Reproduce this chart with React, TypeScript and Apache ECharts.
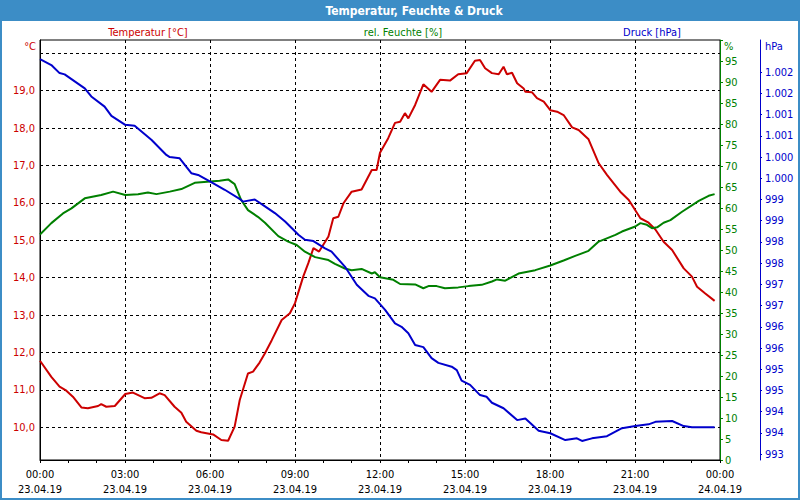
import React, { useEffect, useRef } from "react";
import * as echarts from "echarts";

// [hour of day, value]
const temperature: [number, number][] = [
  [0, 11.78], [0.4, 11.35], [0.69, 11.09], [0.93, 10.98], [1.16, 10.82], [1.46, 10.53], [1.69, 10.51],
  [2.05, 10.57], [2.16, 10.62], [2.34, 10.55], [2.64, 10.57], [3.01, 10.89], [3.28, 10.93], [3.69, 10.78],
  [3.93, 10.79], [4.22, 10.91], [4.4, 10.86], [4.75, 10.55], [4.99, 10.39], [5.16, 10.15], [5.52, 9.91],
  [5.69, 9.87], [6.11, 9.81], [6.4, 9.66], [6.64, 9.64], [6.87, 10.02], [7.05, 10.73], [7.34, 11.44],
  [7.52, 11.49], [7.75, 11.73], [7.94, 11.98], [8.18, 12.33], [8.53, 12.87], [8.82, 13.05], [9.0, 13.32],
  [9.29, 14.03], [9.47, 14.39], [9.65, 14.79], [9.85, 14.7], [10.18, 15.1], [10.35, 15.59], [10.53, 15.63],
  [10.71, 15.99], [11.0, 16.3], [11.35, 16.36], [11.71, 16.88], [11.88, 16.88], [12.0, 17.34], [12.29, 17.73],
  [12.53, 18.14], [12.71, 18.17], [12.88, 18.4], [13.0, 18.26], [13.24, 18.62], [13.53, 19.17], [13.82, 18.97],
  [14.12, 19.29], [14.47, 19.27], [14.76, 19.44], [15.06, 19.47], [15.35, 19.8], [15.53, 19.82], [15.71, 19.6],
  [15.95, 19.47], [16.19, 19.44], [16.36, 19.64], [16.48, 19.44], [16.66, 19.48], [16.84, 19.2], [17.07, 19.06],
  [17.13, 18.97], [17.36, 18.96], [17.54, 18.8], [17.78, 18.71], [18.01, 18.48], [18.25, 18.44], [18.48, 18.35],
  [18.78, 18.02], [19.01, 17.95], [19.36, 17.7], [19.72, 17.06], [20.01, 16.75], [20.48, 16.3], [20.78, 16.08],
  [21.19, 15.59], [21.48, 15.47], [21.72, 15.29], [22.01, 14.96], [22.31, 14.74], [22.72, 14.25], [23.01, 14.03],
  [23.19, 13.76], [23.48, 13.58], [23.81, 13.38],
];

const humidity: [number, number][] = [
  [0, 53.7], [0.4, 56.4], [0.81, 58.7], [1.11, 59.9], [1.58, 62.3], [2.16, 63.1], [2.58, 63.9], [3.01, 63.1],
  [3.46, 63.3], [3.81, 63.7], [4.11, 63.3], [4.58, 63.9], [4.99, 64.5], [5.46, 66.0], [6.01, 66.3], [6.34, 66.5],
  [6.64, 66.8], [6.87, 65.7], [7.1, 61.9], [7.34, 59.5], [7.69, 57.9], [7.94, 56.5], [8.41, 53.3], [8.76, 52.0],
  [9.06, 51.2], [9.35, 49.6], [9.71, 48.3], [10.18, 47.6], [10.41, 46.7], [10.76, 45.6], [11.0, 45.2],
  [11.35, 45.5], [11.71, 44.4], [11.82, 44.7], [12.0, 43.5], [12.47, 42.9], [12.71, 41.9], [13.24, 41.8],
  [13.53, 40.9], [13.71, 41.4], [14.0, 41.4], [14.29, 40.9], [14.76, 41.1], [15.12, 41.4], [15.59, 41.7],
  [15.95, 42.5], [16.13, 43.0], [16.42, 42.7], [16.89, 44.4], [17.48, 45.2], [18.01, 46.3], [18.48, 47.5],
  [18.89, 48.6], [19.36, 49.8], [19.72, 52.0], [20.31, 53.6], [20.54, 54.4], [21.01, 55.6], [21.19, 56.4],
  [21.42, 56.0], [21.6, 55.2], [21.78, 55.4], [22.01, 56.5], [22.25, 57.1], [22.66, 59.1], [23.25, 61.7],
  [23.6, 62.9], [23.81, 63.3],
];

const pressure: [number, number][] = [
  [0, 1002.31], [0.4, 1002.17], [0.69, 1001.98], [0.87, 1001.95], [1.58, 1001.62], [1.81, 1001.43],
  [2.28, 1001.19], [2.52, 1000.97], [3.01, 1000.76], [3.34, 1000.74], [3.93, 1000.41], [4.46, 1000.05],
  [4.58, 1000.0], [4.93, 999.97], [5.34, 999.62], [5.58, 999.58], [6.01, 999.42], [6.52, 999.23],
  [7.1, 998.99], [7.16, 998.95], [7.58, 999.0], [7.94, 998.84], [8.29, 998.68], [8.65, 998.48],
  [9.12, 998.17], [9.35, 998.05], [9.65, 998.02], [10.06, 997.85], [10.29, 997.77], [10.76, 997.42],
  [11.18, 996.99], [11.59, 996.73], [11.82, 996.67], [12.18, 996.4], [12.53, 996.08], [12.76, 996.0],
  [13.0, 995.85], [13.24, 995.57], [13.53, 995.52], [13.82, 995.26], [14.06, 995.15], [14.53, 995.06],
  [14.71, 994.98], [14.88, 994.73], [15.18, 994.63], [15.53, 994.39], [15.76, 994.35], [15.95, 994.21],
  [16.36, 994.08], [16.84, 993.8], [17.13, 993.84], [17.6, 993.55], [18.01, 993.49], [18.54, 993.33],
  [18.95, 993.37], [19.13, 993.31], [19.48, 993.37], [20.01, 993.42], [20.54, 993.61], [21.01, 993.66],
  [21.48, 993.7], [21.72, 993.76], [22.31, 993.78], [22.72, 993.66], [23.01, 993.63], [23.81, 993.63],
];

const tempLabels = [10, 11, 12, 13, 14, 15, 16, 17, 18, 19];
const tempGrid = [10, 11, 12, 13, 14, 15, 16, 17, 18, 19, 20];
const pressureTicks = [993, 993.5, 994, 994.5, 995, 995.5, 996, 996.5, 997, 997.5, 998, 998.5, 999, 999.5, 1000, 1000.5, 1001, 1001.5, 1002];

const TITLE = "Temperatur, Feuchte & Druck";
const NAME_T = "Temperatur [°C]";
const NAME_H = "rel. Feuchte [%]";
const NAME_P = "Druck [hPa]";

const RED = "#CC0000";
const GREEN = "#008000";
const BLUE = "#0000CC";
const FRAME = "#3C8DC6";
const FONT = '"DejaVu Sans Condensed", "Liberation Sans", sans-serif';

const pad2 = (n: number) => (n < 10 ? "0" + n : "" + n);

export default function App() {
  const ref = useRef<HTMLDivElement>(null);
  useEffect(() => {
    if (!ref.current) return;
    const chart = echarts.init(ref.current, undefined, { renderer: "svg" });
    const dash = [3, 3];
    chart.setOption({
      animation: false,
      backgroundColor: "#fff",
      textStyle: { fontFamily: FONT },
      grid: { left: 40, right: 80, top: 40, bottom: 40, show: true, borderColor: "#000", borderWidth: 1 },
      graphic: [
        { type: "rect", shape: { x: 0, y: 0, width: 800, height: 21 }, style: { fill: FRAME }, z: 100 },
        { type: "rect", shape: { x: 1, y: 1, width: 798, height: 498 }, style: { fill: "none", stroke: FRAME, lineWidth: 2 }, z: 100 },
        { type: "text", x: 414, y: 11, z: 101, style: { text: TITLE, fill: "#fff", fontSize: 12, fontWeight: "bold", fontFamily: FONT, align: "center", verticalAlign: "middle" } },
        { type: "text", x: 148, y: 32, style: { text: NAME_T, fill: RED, fontSize: 11, fontFamily: FONT, align: "center", verticalAlign: "middle" } },
        { type: "text", x: 403, y: 32, style: { text: NAME_H, fill: GREEN, fontSize: 11, fontFamily: FONT, align: "center", verticalAlign: "middle" } },
        { type: "text", x: 652, y: 32, style: { text: NAME_P, fill: BLUE, fontSize: 11, fontFamily: FONT, align: "center", verticalAlign: "middle" } },
        { type: "text", x: 36, y: 46, style: { text: "°C", fill: RED, fontSize: 11, fontFamily: FONT, align: "right", verticalAlign: "middle" } },
        { type: "text", x: 724, y: 46, style: { text: "%", fill: GREEN, fontSize: 11, fontFamily: FONT, align: "left", verticalAlign: "middle" } },
        { type: "text", x: 765, y: 46, style: { text: "hPa", fill: BLUE, fontSize: 11, fontFamily: FONT, align: "left", verticalAlign: "middle" } },
      ],
      xAxis: {
        type: "value",
        min: 0,
        max: 24,
        interval: 3,
        axisLine: { onZero: false, lineStyle: { color: "#000", width: 1 } },
        axisTick: { show: true, length: 3, lineStyle: { color: "#000" } },
        minorTick: { show: true, splitNumber: 3, length: 3, lineStyle: { color: "#000" } },
        splitLine: { show: true, lineStyle: { color: "#000", type: dash, width: 1 } },
        axisLabel: {
          color: "#000",
          fontSize: 11,
          lineHeight: 15,
          margin: 7,
          fontFamily: FONT,
          formatter: (v: number) => pad2(v % 24) + ":00\n" + (v < 24 ? "23.04.19" : "24.04.19"),
        },
      },
      yAxis: [
        {
          type: "value",
          position: "left",
          min: 9.126,
          max: 20.356,
          axisLine: { show: true, lineStyle: { color: "#000" } },
          axisTick: { show: false },
          splitLine: { show: false },
          axisLabel: {
            customValues: tempLabels,
            color: RED,
            fontSize: 11,
            margin: 5,
            fontFamily: FONT,
            formatter: (v: number) => v.toFixed(1).replace(".", ","),
          },
        },
        {
          type: "value",
          position: "right",
          min: 0,
          max: 100,
          interval: 5,
          axisLine: { show: true, lineStyle: { color: GREEN } },
          axisTick: { show: true, length: 3, lineStyle: { color: GREEN } },
          splitLine: { show: false },
          axisLabel: {
            color: GREEN,
            fontSize: 11,
            margin: 5,
            fontFamily: FONT,
            formatter: (v: number) => (v >= 100 ? "" : String(v)),
          },
        },
        {
          type: "value",
          position: "right",
          offset: 40,
          min: 992.86,
          max: 1002.76,
          axisLine: { show: true, lineStyle: { color: BLUE } },
          axisTick: { show: true, length: 2, customValues: pressureTicks, lineStyle: { color: BLUE } },
          splitLine: { show: false },
          axisLabel: {
            customValues: pressureTicks,
            color: BLUE,
            fontSize: 11,
            margin: 5,
            fontFamily: FONT,
            formatter: (v: number) => {
              const r = Math.round(v);
              return r >= 1000 ? "1." + String(r - 1000).padStart(3, "0") : String(r);
            },
          },
        },
      ],
      series: [
        {
          type: "line",
          name: NAME_T,
          yAxisIndex: 0,
          data: temperature,
          symbol: "none",
          z: 10,
          lineStyle: { color: RED, width: 2 },
          itemStyle: { color: RED },
          markLine: {
            silent: true,
            z: 1,
            symbol: ["none", "none"],
            label: { show: false },
            lineStyle: { color: "#000", type: dash, width: 1 },
            emphasis: { disabled: true },
            data: tempGrid.map((v) => ({ yAxis: v })),
          },
        },
        {
          type: "line",
          name: NAME_H,
          yAxisIndex: 1,
          data: humidity,
          symbol: "none",
          z: 10,
          lineStyle: { color: GREEN, width: 2 },
          itemStyle: { color: GREEN },
        },
        {
          type: "line",
          name: NAME_P,
          yAxisIndex: 2,
          data: pressure,
          symbol: "none",
          z: 10,
          lineStyle: { color: BLUE, width: 2 },
          itemStyle: { color: BLUE },
        },
      ],
    });
    return () => chart.dispose();
  }, []);
  return <div ref={ref} style={{ position: "fixed", left: 0, top: 0, width: 800, height: 500 }} />;
}
